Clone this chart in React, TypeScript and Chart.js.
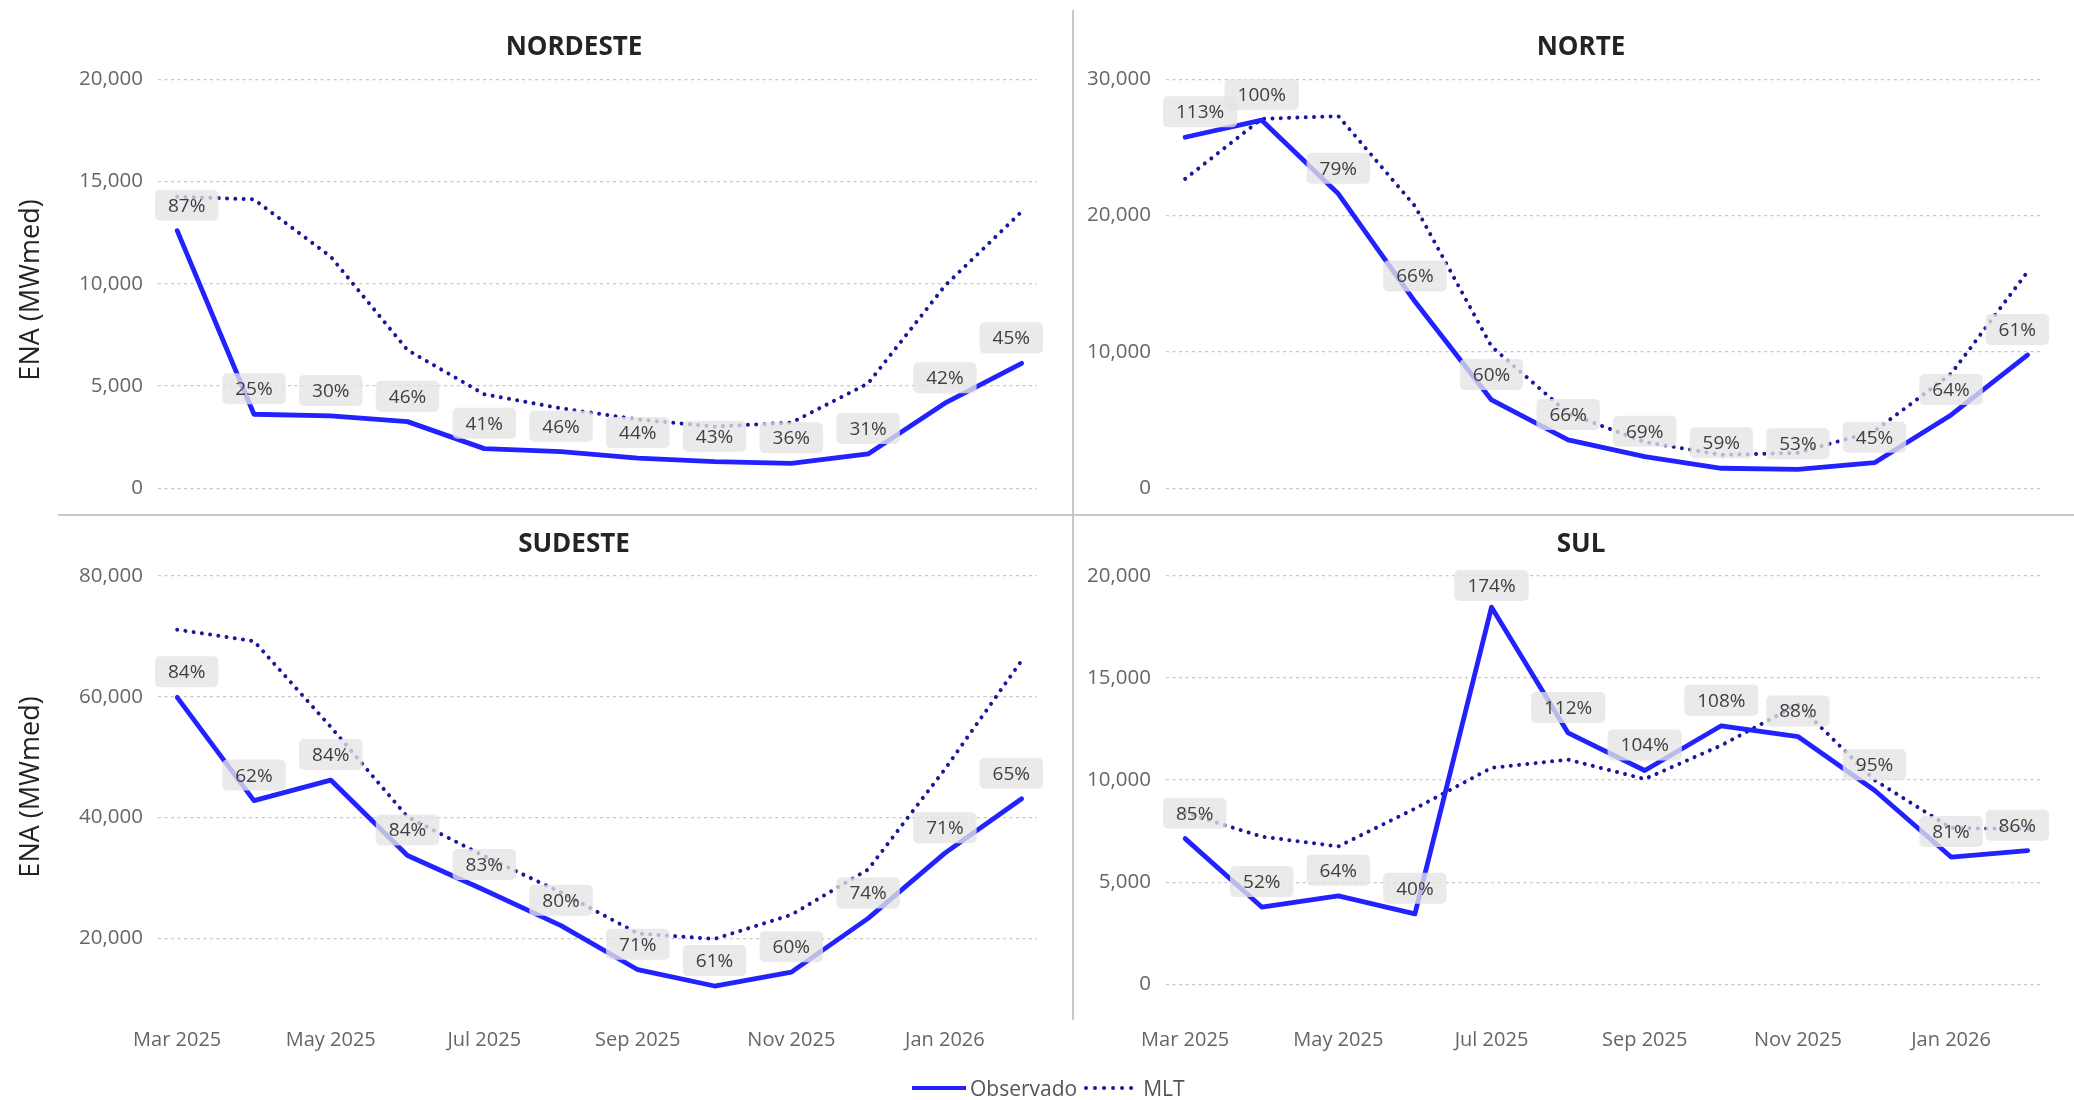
import React, { useEffect, useRef } from 'react';
import { Chart, registerables } from 'chart.js';

Chart.register(...registerables);

const months = ['Mar 2025', 'Apr 2025', 'May 2025', 'Jun 2025', 'Jul 2025', 'Aug 2025', 'Sep 2025', 'Oct 2025', 'Nov 2025', 'Dec 2025', 'Jan 2026', 'Feb 2026'];
const monthTicks = [0, 2, 4, 6, 8, 10];

const nordesteObs = [12600, 3620, 3540, 3260, 1940, 1790, 1480, 1300, 1220, 1680, 4160, 6110];
const nordesteMlt = [14260, 14130, 11330, 6760, 4600, 3910, 3370, 3020, 3210, 5130, 9900, 13530];
const nordestePct = ['87%', '25%', '30%', '46%', '41%', '46%', '44%', '43%', '36%', '31%', '42%', '45%'];

const norteObs = [25750, 27000, 21600, 13700, 6480, 3550, 2320, 1470, 1390, 1880, 5380, 9780];
const norteMlt = [22700, 27100, 27300, 20700, 10400, 5500, 3400, 2450, 2600, 4200, 8400, 15900];
const nortePct = ['113%', '100%', '79%', '66%', '60%', '66%', '69%', '59%', '53%', '45%', '64%', '61%'];

const sudesteObs = [59900, 42800, 46200, 33700, 28000, 22100, 14800, 12100, 14400, 23300, 34100, 43100];
const sudesteMlt = [71100, 69200, 55000, 40100, 33600, 27600, 20800, 19900, 23900, 31400, 48000, 66000];
const sudestePct = ['84%', '62%', '84%', '84%', '83%', '80%', '71%', '61%', '60%', '74%', '71%', '65%'];

const sulObs = [7130, 3780, 4330, 3450, 18470, 12310, 10470, 12660, 12130, 9500, 6230, 6540];
const sulMlt = [8400, 7230, 6750, 8600, 10600, 11000, 10050, 11700, 13700, 10000, 7650, 7600];
const sulPct = ['85%', '52%', '64%', '40%', '174%', '112%', '104%', '108%', '88%', '95%', '81%', '86%'];

const FONT = "'Open Sans', 'Noto Sans', sans-serif";
const OBS_COLOR = '#2222FF';
const MLT_COLOR = '#18189A';
const GRID_COLOR = '#c8c8c8';
const TICK_COLOR = '#666666';

const pctLabelPlugin = {
  id: 'pctLabels',
  afterDatasetsDraw(chart: any, _args: any, opts: any) {
    const labels: string[] = opts.labels || [];
    const meta = chart.getDatasetMeta(0);
    const { ctx, chartArea } = chart;
    ctx.save();
    ctx.font = `19px ${FONT}`;
    meta.data.forEach((pt: any, i: number) => {
      const text = labels[i];
      if (!text) return;
      const tw = ctx.measureText(text).width;
      const w = tw + 26;
      const h = 31;
      let left = pt.x - w / 2;
      left = Math.max(chartArea.left - 3, Math.min(left, chartArea.right + 6 - w));
      let top = pt.y - 25.5 - h / 2;
      top = Math.max(chartArea.top - 6, top);
      ctx.fillStyle = 'rgba(228,228,228,0.78)';
      ctx.beginPath();
      ctx.roundRect(left, top, w, h, 5);
      ctx.fill();
      ctx.fillStyle = '#404040';
      ctx.textAlign = 'center';
      ctx.textBaseline = 'middle';
      ctx.fillText(text, left + w / 2, top + h / 2 + 1);
    });
    ctx.restore();
  },
};

type Panel = {
  title: string;
  obs: number[];
  mlt: number[];
  pct: string[];
  yMin: number;
  yMax: number;
  step: number;
  left: number;
  top: number;
  width: number;
  height: number;
  area: { l: number; t: number; r: number; b: number };
  showX: boolean;
};

const panels: Panel[] = [
  { title: 'NORDESTE', obs: nordesteObs, mlt: nordesteMlt, pct: nordestePct, yMin: 0, yMax: 20000, step: 5000,
    left: 0, top: 0, width: 1074, height: 512, area: { l: 158, t: 79.3, r: 1037, b: 488.3 }, showX: false },
  { title: 'NORTE', obs: norteObs, mlt: norteMlt, pct: nortePct, yMin: 0, yMax: 30000, step: 10000,
    left: 1074, top: 0, width: 1000, height: 512, area: { l: 92, t: 79.3, r: 969, b: 488.3 }, showX: false },
  { title: 'SUDESTE', obs: sudesteObs, mlt: sudesteMlt, pct: sudestePct, yMin: 7800, yMax: 80000, step: 20000,
    left: 0, top: 515, width: 1074, height: 585, area: { l: 158, t: 60.9, r: 1037, b: 497 }, showX: true },
  { title: 'SUL', obs: sulObs, mlt: sulMlt, pct: sulPct, yMin: -1360, yMax: 20000, step: 5000,
    left: 1074, top: 515, width: 1000, height: 585, area: { l: 92, t: 60.9, r: 969, b: 497 }, showX: true },
];

function PanelChart({ p }: { p: Panel }) {
  const ref = useRef<HTMLCanvasElement>(null);
  useEffect(() => {
    if (!ref.current) return;
    const xAxisH = p.showX ? 50 : 0;
    const chart = new Chart(ref.current, {
      type: 'line',
      data: {
        datasets: [
          {
            label: 'Observado',
            data: p.obs.map((v, i) => ({ x: i, y: v })),
            borderColor: OBS_COLOR,
            backgroundColor: OBS_COLOR,
            borderWidth: 4.8,
            pointRadius: 0,
            tension: 0,
            borderJoinStyle: 'round',
            borderCapStyle: 'round',
          },
          {
            label: 'MLT',
            data: p.mlt.map((v, i) => ({ x: i, y: v })),
            borderColor: MLT_COLOR,
            backgroundColor: MLT_COLOR,
            borderWidth: 4,
            borderDash: [0.01, 8.3],
            borderCapStyle: 'round',
            pointRadius: 0,
            tension: 0,
          },
        ],
      },
      options: {
        responsive: false,
        animation: false,
        devicePixelRatio: 1,
        layout: {
          padding: {
            left: 0,
            top: p.area.t,
            right: p.width - p.area.r,
            bottom: p.height - p.area.b - xAxisH,
          },
        },
        plugins: {
          legend: { display: false },
          tooltip: { enabled: false },
          title: { display: false },
          pctLabels: { labels: p.pct },
        } as any,
        scales: {
          x: {
            type: 'linear',
            min: -0.25,
            max: 11.2,
            display: p.showX,
            grid: { display: false, drawTicks: false },
            border: { display: false },
            afterBuildTicks: (scale: any) => {
              scale.ticks = monthTicks.map((v) => ({ value: v }));
            },
            afterFit: (scale: any) => {
              scale.height = xAxisH;
              scale.paddingLeft = 0;
              scale.paddingRight = 0;
            },
            ticks: {
              autoSkip: false,
              maxRotation: 0,
              padding: 16,
              color: TICK_COLOR,
              font: { family: FONT, size: 20 },
              callback: (v: any) => months[Number(v)] ?? '',
            },
          },
          y: {
            type: 'linear',
            min: p.yMin,
            max: p.yMax,
            grid: {
              color: GRID_COLOR,
              lineWidth: 1.2,
              drawTicks: false,
            },
            border: { display: false, dash: [3, 3.5] },
            afterBuildTicks: (scale: any) => {
              const ticks: { value: number }[] = [];
              const start = Math.ceil(Math.max(p.yMin, 0) / p.step) * p.step;
              for (let v = start; v <= p.yMax + 1e-6; v += p.step) ticks.push({ value: v });
              scale.ticks = ticks;
            },
            afterFit: (scale: any) => {
              scale.width = p.area.l;
              scale.paddingTop = 0;
              scale.paddingBottom = 0;
            },
            ticks: {
              stepSize: p.step,
              padding: 15,
              color: TICK_COLOR,
              font: { family: FONT, size: 20.5 },
              callback: (v: any) => Number(v).toLocaleString('en-US'),
            },
          },
        },
      },
      plugins: [pctLabelPlugin as any],
    });
    return () => chart.destroy();
  }, [p]);
  return (
    <canvas
      ref={ref}
      width={p.width}
      height={p.height}
      style={{ position: 'absolute', left: p.left, top: p.top, width: p.width, height: p.height }}
    />
  );
}

export default function App() {
  const titleStyle = (cx: number, cy: number): React.CSSProperties => ({
    position: 'absolute',
    left: cx - 200,
    top: cy - 17,
    width: 400,
    height: 34,
    lineHeight: '34px',
    textAlign: 'center',
    fontFamily: FONT,
    fontWeight: 700,
    fontSize: 26,
    color: '#252423',
  });
  const yTitleStyle = (cx: number, cy: number): React.CSSProperties => ({
    position: 'absolute',
    left: cx - 150,
    top: cy - 18,
    width: 300,
    height: 36,
    lineHeight: '36px',
    textAlign: 'center',
    fontFamily: FONT,
    fontSize: 27,
    color: '#252423',
    transform: 'rotate(-90deg)',
    whiteSpace: 'nowrap',
  });
  return (
    <div
      style={{
        position: 'absolute',
        left: 0,
        top: 0,
        width: 2074,
        height: 1100,
        background: '#ffffff',
        overflow: 'hidden',
      }}
    >
      {panels.map((p) => (
        <PanelChart key={p.title} p={p} />
      ))}
      <div style={titleStyle(574, 45)}>NORDESTE</div>
      <div style={titleStyle(1581, 45)}>NORTE</div>
      <div style={titleStyle(574, 542)}>SUDESTE</div>
      <div style={titleStyle(1581, 542)}>SUL</div>
      <div style={yTitleStyle(28.5, 289.5)}>ENA (MWmed)</div>
      <div style={yTitleStyle(28.5, 786.5)}>ENA (MWmed)</div>
      <div style={{ position: 'absolute', left: 1072, top: 10, width: 2, height: 1010, background: '#c8c8c8' }} />
      <div style={{ position: 'absolute', left: 58, top: 514, width: 2016, height: 2, background: '#c8c8c8' }} />
      <div
        style={{
          position: 'absolute',
          left: 912,
          top: 1074,
          height: 28,
          display: 'flex',
          alignItems: 'center',
          fontFamily: FONT,
          fontSize: 21,
          color: '#555555',
          whiteSpace: 'nowrap',
        }}
      >
        <svg width={54} height={8} style={{ marginRight: 4 }}>
          <line x1={0} y1={4} x2={54} y2={4} stroke={OBS_COLOR} strokeWidth={4} />
        </svg>
        <span>Observado</span>
        <svg width={56} height={8} style={{ marginLeft: 6, marginRight: 4 }}>
          <line x1={3} y1={4} x2={54} y2={4} stroke={MLT_COLOR} strokeWidth={4} strokeDasharray="0.01 9" strokeLinecap="round" />
        </svg>
        <span>MLT</span>
      </div>
    </div>
  );
}
